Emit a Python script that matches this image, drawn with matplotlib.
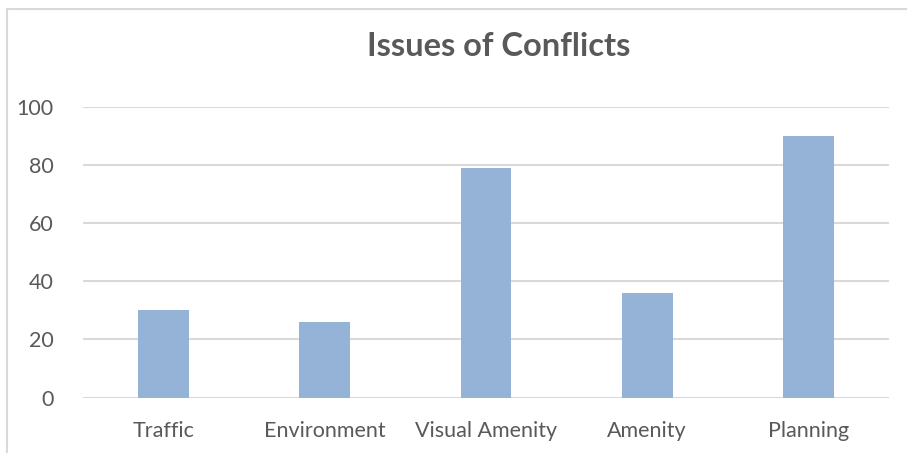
import matplotlib.pyplot as plt
from matplotlib.patches import Rectangle

categories = ['Traffic', 'Environment', 'Visual Amenity', 'Amenity', 'Planning']
values = [30, 26, 79, 36, 90]
y_ticks = [0, 20, 40, 60, 80, 100]

W, H = 907, 453
text_color = '#595959'
grid_color = '#D9D9D9'
bar_color = '#95B3D7'

plt.rcParams['font.family'] = ['Lato', 'DejaVu Sans']

fig = plt.figure(figsize=(W / 100, H / 100), dpi=100)
ax = fig.add_axes([83 / W, 1 - 397.5 / H, (889 - 83) / W, (397.5 - 107) / H])

x = range(len(categories))
ax.bar(x, values, width=0.315, color=bar_color, zorder=3)

ax.set_xlim(-0.5, len(categories) - 0.5)
ax.set_ylim(0, 100)
ax.set_yticks(y_ticks)
ax.set_xticks(list(x))
ax.set_xticklabels(categories)
ax.yaxis.grid(True, color=grid_color, linewidth=1.5, zorder=0)
ax.tick_params(axis='both', length=0, labelsize=15.5, colors=text_color)
ax.tick_params(axis='y', pad=21)
ax.tick_params(axis='x', pad=17)
for spine in ax.spines.values():
    spine.set_visible(False)

fig.text(499 / W, 1 - 47 / H, 'Issues of Conflicts', ha='center', va='center',
         fontsize=23.5, fontweight='bold', color=text_color)

# chart frame, only the top and left edges fall inside the image
fig.patches.append(Rectangle((7 / W, -0.1), 2, 1.1 - 9 / H, transform=fig.transFigure,
                             fill=False, edgecolor=grid_color, linewidth=1.5))

fig.savefig('out.png', dpi=100)
